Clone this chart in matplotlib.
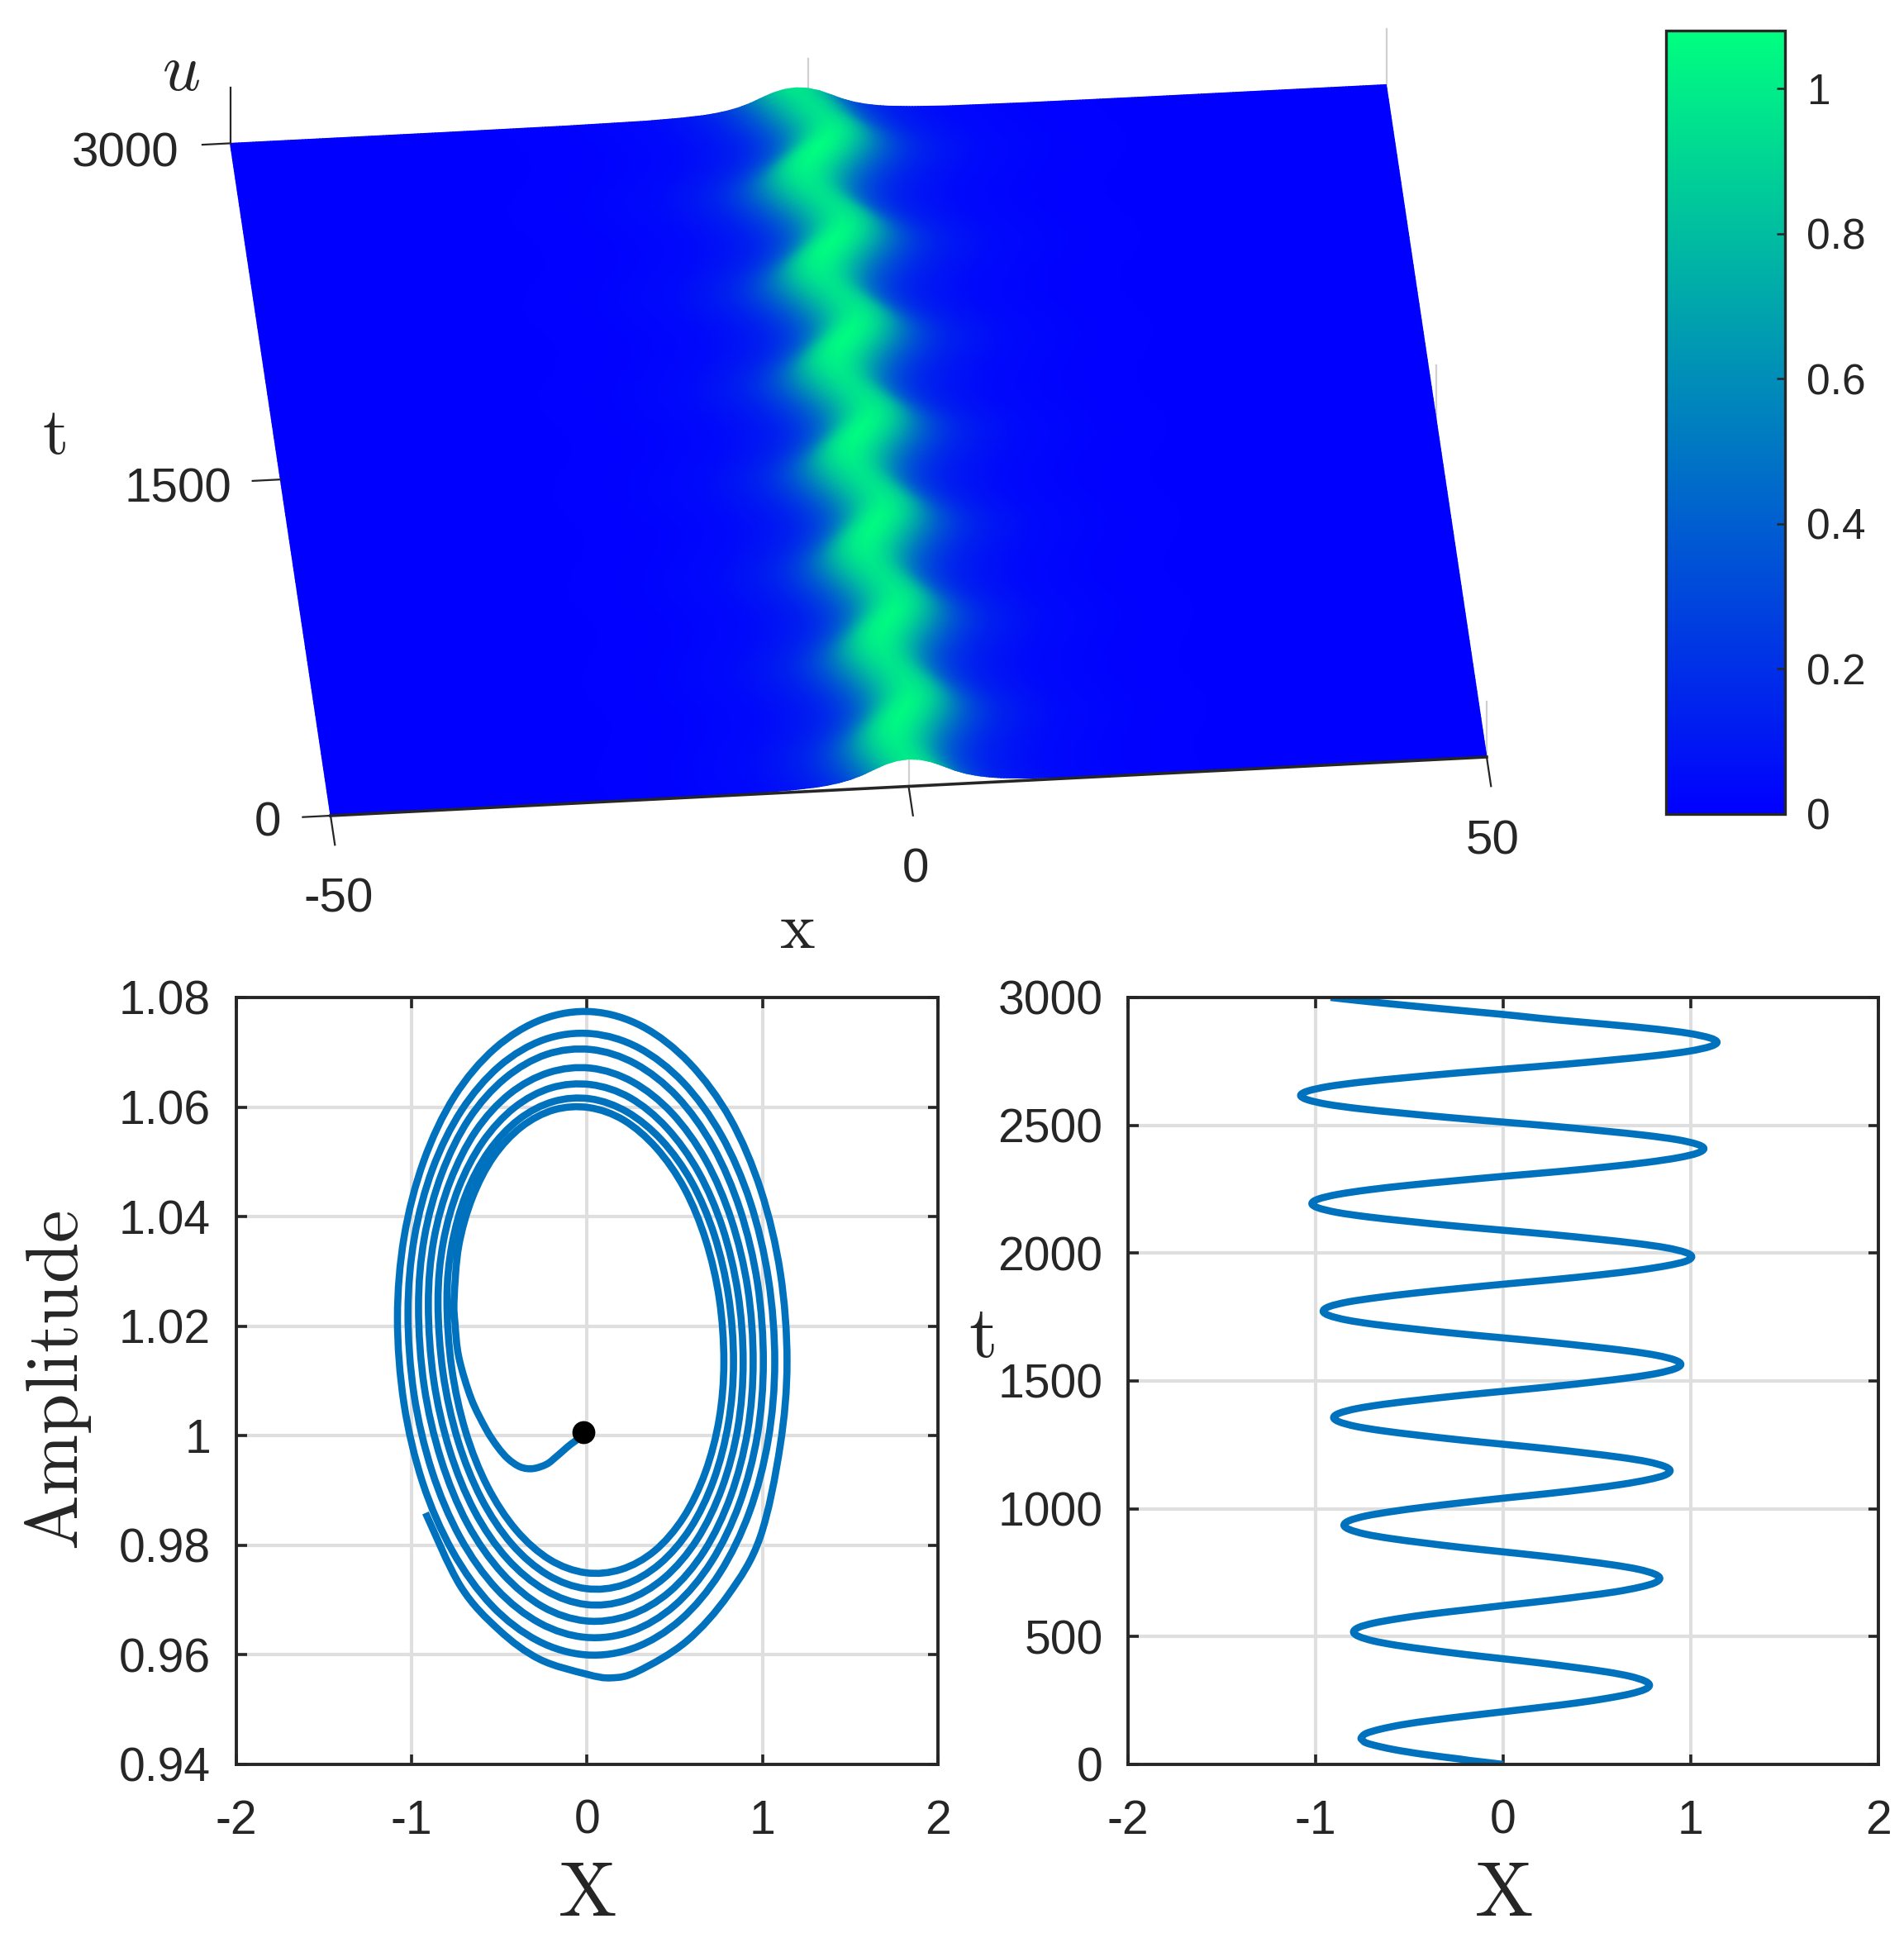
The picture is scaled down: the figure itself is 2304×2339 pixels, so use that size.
import numpy as np
import matplotlib
matplotlib.use("Agg")
import matplotlib.pyplot as plt
from matplotlib.path import Path
from matplotlib.patches import PathPatch

plt.rcParams['font.family'] = ['Liberation Sans', 'DejaVu Sans']
plt.rcParams['mathtext.fontset'] = 'cm'

# --- trajectory (t, X, Amplitude) ---
t_vals = [0, 8, 15, 21, 28, 35, 42, 49, 57, 70, 84, 96, 104,
          121, 138, 156, 173, 190, 207, 224, 241, 259, 276, 293, 310,
          327, 345, 362, 379, 397, 414, 431, 449, 466, 483, 501, 518,
          536, 553, 570, 588, 605, 623, 640, 658, 675, 693, 710, 728,
          745, 763, 780, 797, 815, 832, 849, 867, 884, 901, 919, 936,
          954, 972, 989, 1007, 1025, 1043, 1060, 1078, 1096, 1114, 1131, 1149,
          1166, 1184, 1201, 1218, 1236, 1253, 1270, 1288, 1305, 1322, 1340, 1357,
          1374, 1392, 1409, 1426, 1444, 1461, 1478, 1496, 1513, 1530, 1548, 1565,
          1582, 1600, 1617, 1634, 1652, 1669, 1686, 1704, 1721, 1738, 1756, 1773,
          1791, 1809, 1826, 1844, 1862, 1880, 1897, 1915, 1933, 1951, 1968, 1986,
          2003, 2021, 2038, 2055, 2073, 2090, 2107, 2125, 2142, 2159, 2177, 2194,
          2212, 2230, 2248, 2266, 2284, 2302, 2319, 2337, 2355, 2373, 2391, 2409,
          2426, 2444, 2461, 2478, 2496, 2513, 2530, 2548, 2565, 2582, 2600, 2617,
          2634, 2652, 2669, 2686, 2704, 2721, 2738, 2756, 2773, 2790, 2808, 2825,
          2842, 2860, 2877, 2894, 2912, 2923, 2934, 2952, 2968, 2984, 3000]
x_vals = [0, -.09, -.174, -.23, -.308, -.38, -.45, -.51, -.575, -.66, -.73, -.752, -.757,
          -.731, -.654, -.533, -.373, -.187, .012, .21, .396, .556, .677, .754, .78,
          .753, .674, .55, .386, .195, -.009, -.213, -.404, -.568, -.692, -.771, -.798,
          -.77, -.689, -.56, -.39, -.192, .019, .229, .427, .597, .726, .807, .835,
          .806, .722, .589, .414, .21, -.007, -.224, -.428, -.603, -.736, -.82, -.849,
          -.819, -.732, -.595, -.414, -.204, .021, .245, .455, .636, .773, .86, .89,
          .86, .77, .628, .442, .224, -.007, -.238, -.456, -.642, -.784, -.874, -.904,
          -.873, -.78, -.634, -.441, -.217, .022, .26, .484, .677, .823, .916, .947,
          .915, .819, .669, .47, .239, -.007, -.253, -.483, -.682, -.832, -.928, -.96,
          -.927, -.828, -.673, -.469, -.231, .023, .276, .514, .718, .873, .972, 1.005,
          .971, .869, .709, .499, .254, -.008, -.269, -.514, -.724, -.884, -.986, -1.02,
          -.984, -.88, -.715, -.498, -.245, .025, .295, .548, .765, .93, 1.034, 1.07,
          1.033, .926, .756, .533, .272, -.005, -.282, -.543, -.766, -.936, -1.043, -1.08,
          -1.042, -.931, -.756, -.525, -.256, .03, .316, .585, .816, .991, 1.102, 1.14,
          1.101, .987, .806, .568, .29, .14, -.005, -.27, -.5, -.72, -.92]
amp_vals = [1.0005, .9985, .9962, .9948, .994, .9943, .9958, .998, 1.0012, 1.0068, 1.0143, 1.0205, 1.025,
            1.0346, 1.0434, 1.0509, 1.0564, 1.0595, 1.0599, 1.0576, 1.0525, 1.0451, 1.0357, 1.025, 1.0135,
            1.003, .9933, .9851, .979, .9756, .975, .9774, .9828, .9908, 1.0008, 1.0124, 1.0248,
            1.0348, 1.0441, 1.0519, 1.0577, 1.061, 1.0615, 1.0591, 1.0539, 1.0463, 1.0366, 1.0254, 1.0135,
            1.0023, .9919, .9831, .9766, .9728, .9721, .9746, .9802, .9886, .9992, 1.0114, 1.0245,
            1.0353, 1.0452, 1.0536, 1.0599, 1.0635, 1.0641, 1.0617, 1.0562, 1.0481, 1.0379, 1.0261, 1.0135,
            1.0015, .9905, .9811, .9741, .97, .9692, .9718, .9776, .9863, .9975, 1.0103, 1.024,
            1.0357, 1.0464, 1.0556, 1.0624, 1.0663, 1.0671, 1.0646, 1.0589, 1.0503, 1.0394, 1.0269, 1.0135,
            1.0008, .989, .979, .9715, .9672, .9662, .9688, .9749, .984, .9957, 1.0091, 1.0235,
            1.0361, 1.0478, 1.0578, 1.0652, 1.0696, 1.0705, 1.0679, 1.0619, 1.0528, 1.0412, 1.0278, 1.0135,
            1.0001, .9876, .977, .969, .9643, .9632, .9658, .972, .9815, .9936, 1.0076, 1.0225,
            1.0361, 1.0487, 1.0594, 1.0675, 1.0723, 1.0734, 1.0708, 1.0645, 1.0549, 1.0427, 1.0286, 1.0135,
            .9993, .9861, .9749, .9664, .9613, .96, .9626, .969, .9789, .9914, 1.0059, 1.0215,
            1.0363, 1.0501, 1.0619, 1.0707, 1.076, 1.0774, 1.0747, 1.068, 1.0579, 1.0448, 1.0297, 1.0135,
            .9982, .9815, .971, .9625, .957, .9558, .9565, .9592, .9645, .9725, .9859]
start_x = [-0.02]
start_amp = [1.0006]

# soliton profile u/u_peak against distance from the centre
profile_dx = [0, 1, 2, 3, 4, 5, 6, 7, 8, 10, 13, 20, 30, 100]
profile_u = [1.0, .96, .85, .68, .5, .36, .26, .19, .14, .085, .04, .01, 0, 0]

xticks_low = [-2, -1, 0, 1, 2]
amp_ticks = [0.94, 0.96, 0.98, 1.0, 1.02, 1.04, 1.06, 1.08]
amp_labels = ['0.94', '0.96', '0.98', '1', '1.02', '1.04', '1.06', '1.08']
t_ticks = [0, 500, 1000, 1500, 2000, 2500, 3000]
cbar_ticks = [0, 0.2, 0.4, 0.6, 0.8, 1]
cbar_labels = ['0', '0.2', '0.4', '0.6', '0.8', '1']

W, H = 2304, 2339
DARK = '#262626'
GRID = '#dfdfdf'
LINE = '#0072BD'
CENTRE_GAIN = 1.15  # the ridge wiggle looks a little wider in the 3d view


def add_axes_px(left, top, right, bottom):
    return fig.add_axes([left / W, 1 - bottom / H, (right - left) / W, (bottom - top) / H])


def project(x, t, u=0.0):
    # affine view of the (x, t, u) box onto figure pixels
    px = 1099.5 + 13.99 * np.asarray(x) - 0.0405 * np.asarray(t)
    py = 951.5 - 0.71 * np.asarray(x) - 0.2712 * np.asarray(t) - 33.0 * np.asarray(u)
    return px, py


def smooth_line(ax, xs, ys, **kw):
    # curve through the read points (Catmull-Rom as cubic segments), no extra data
    p = np.column_stack([xs, ys])
    q = np.vstack([p[0], p, p[-1]])
    verts = [p[0]]
    codes = [Path.MOVETO]
    for i in range(1, len(q) - 2):
        verts += [q[i] + (q[i + 1] - q[i - 1]) / 6, q[i + 1] - (q[i + 2] - q[i]) / 6, q[i + 1]]
        codes += [Path.CURVE4] * 3
    ax.add_patch(PathPatch(Path(verts, codes), fill=False, **kw))


fig = plt.figure(figsize=(W / 100, H / 100), dpi=100)

# --- top: surface ---
top = fig.add_axes([0, 0, 1, 1])
top.set_xlim(0, W)
top.set_ylim(H, 0)
top.axis('off')

t_arr = np.array(t_vals, dtype=float)
x_grid = np.linspace(-50, 50, 401)
X, T = np.meshgrid(x_grid, t_arr)
centre = np.array(x_vals)[:, None] * CENTRE_GAIN
U = np.array(amp_vals)[:, None] * np.interp(np.abs(X - centre), profile_dx, profile_u)
PX, PY = project(X, T, U)
mesh = top.pcolormesh(PX, PY, U, cmap='winter', vmin=0, vmax=1.08, shading='gouraud', zorder=2)

for xg, tg in [(0, 3000), (50, 3000), (50, 1500), (50, 0), (0, 0)]:
    p0 = project(xg, tg)
    top.plot([p0[0], p0[0]], [p0[1], p0[1] - 67], color='#d0d0d0', lw=1.6, zorder=1)
p0 = project(-50, 3000)
top.plot([p0[0], p0[0]], [p0[1], p0[1] - 67], color=DARK, lw=1.6, zorder=3)

bx, by = project(np.array([-50, 50]), np.array([0, 0]))
top.plot(bx, by, color=DARK, lw=2.6, zorder=3)
for tg in [0, 1500, 3000]:
    tx, ty = project(np.array([-50, -52.4]), np.array([tg, tg]))
    top.plot(tx, ty, color=DARK, lw=1.6, zorder=3)
for xg in [-50, 0, 50]:
    tx, ty = project(np.array([xg, xg]), np.array([0, -130]))
    top.plot(tx, ty, color=DARK, lw=1.6, zorder=3)

for s, px, py in [('3000', 152, 187), ('1500', 215, 593), ('0', 324, 997),
                  ('-50', 410, 1088), ('0', 1108, 1052), ('50', 1806, 1018)]:
    top.text(px, py, s, fontsize=42, color=DARK, ha='center', va='center')
top.text(965, 1126, r'$\mathrm{x}$', fontsize=58, color=DARK, ha='center', va='center')
top.text(65, 528, r'$\mathrm{t}$', fontsize=58, color=DARK, ha='center', va='center')
top.text(219, 88, r'$u$', fontsize=58, color=DARK, ha='center', va='center')

# --- colorbar ---
cax = add_axes_px(2016, 37, 2160, 985)
cbar = fig.colorbar(mesh, cax=cax, ticks=cbar_ticks)
cbar.ax.set_yticklabels(cbar_labels)
cbar.ax.tick_params(direction='in', length=7, width=1.8, color=DARK, labelcolor=DARK,
                    labelsize=37, pad=19)
cbar.outline.set_edgecolor(DARK)
cbar.outline.set_linewidth(2.4)


def style_axes(ax):
    ax.set_axisbelow(True)
    ax.grid(True, color=GRID, lw=3)
    ax.tick_params(direction='in', top=True, right=True, length=9, width=2.6, color=DARK,
                   labelcolor=DARK, labelsize=41, pad=22)
    ax.tick_params(axis='x', pad=30)
    for sp in ax.spines.values():
        sp.set_color(DARK)
        sp.set_linewidth(2.8)


# --- bottom left: amplitude against X ---
ax1 = add_axes_px(285.6, 1207, 1135, 2135)
smooth_line(ax1, x_vals, amp_vals, edgecolor=LINE, lw=6.2, joinstyle='round', capstyle='butt')
ax1.plot(start_x, start_amp, 'o', color='black', ms=19, zorder=5)
ax1.set_xlim(-2, 2)
ax1.set_ylim(0.94, 1.08)
ax1.set_xticks(xticks_low)
ax1.set_xticklabels([str(v) for v in xticks_low])
ax1.set_yticks(amp_ticks)
ax1.set_yticklabels(amp_labels)
style_axes(ax1)

# --- bottom right: t against X ---
ax2 = add_axes_px(1365, 1207, 2273, 2135)
smooth_line(ax2, x_vals, t_vals, edgecolor=LINE, lw=6.2, joinstyle='round', capstyle='butt')
ax2.set_xlim(-2, 2)
ax2.set_ylim(0, 3000)
ax2.set_xticks(xticks_low)
ax2.set_xticklabels([str(v) for v in xticks_low])
ax2.set_yticks(t_ticks)
style_axes(ax2)

top.text(710, 2293, r'$\mathrm{X}$', fontsize=68, color=DARK, ha='center', va='center')
top.text(1819, 2293, r'$\mathrm{X}$', fontsize=68, color=DARK, ha='center', va='center')
top.text(71, 1670, r'$\mathrm{Amplitude}$', fontsize=64, color=DARK, rotation=90,
         ha='center', va='center')
top.text(1188, 1619, r'$\mathrm{t}$', fontsize=64, color=DARK, ha='center', va='center')

plt.savefig('out.png', dpi=100)
